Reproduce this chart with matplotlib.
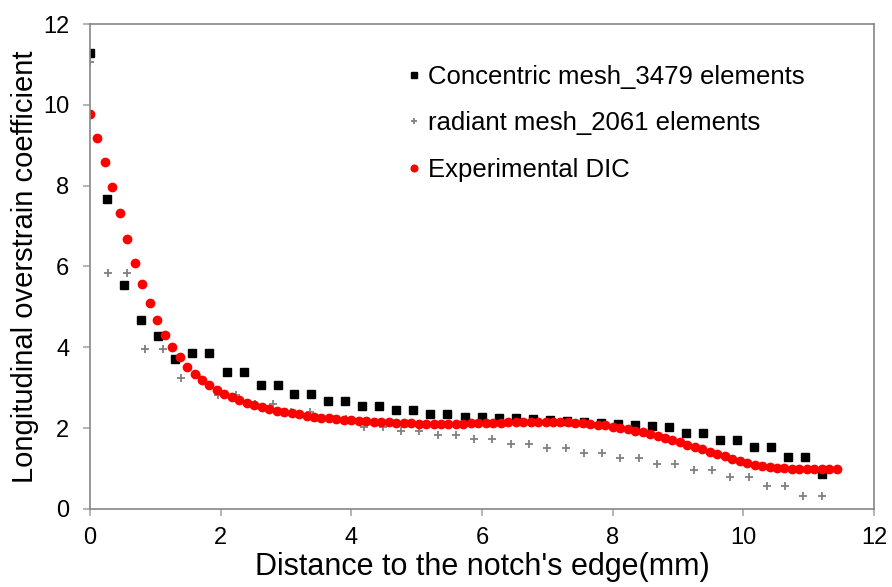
import numpy as np
import matplotlib
matplotlib.use("Agg")
import matplotlib.pyplot as plt

plt.rcParams['font.family'] = ['Liberation Sans', 'DejaVu Sans']

# concentric mesh (3479 elements)
conc_x = [0, 0.26, 0.52, 0.78, 1.04, 1.30, 1.56, 1.82, 2.09, 2.35, 2.61, 2.87, 3.13, 3.39,
          3.65, 3.91, 4.17, 4.43, 4.69, 4.95, 5.21, 5.47, 5.74, 6.00, 6.26, 6.52, 6.78, 7.04,
          7.30, 7.56, 7.82, 8.08, 8.34, 8.60, 8.86, 9.12, 9.39, 9.65, 9.91, 10.17, 10.43,
          10.69, 10.95, 11.21]
conc_y = [11.29, 7.68, 5.53, 4.68, 4.29, 3.70, 3.85, 3.85, 3.39, 3.39, 3.07, 3.07, 2.85, 2.85,
          2.68, 2.68, 2.56, 2.56, 2.45, 2.45, 2.35, 2.35, 2.28, 2.28, 2.24, 2.24, 2.22, 2.21,
          2.18, 2.15, 2.12, 2.10, 2.08, 2.06, 2.04, 1.89, 1.89, 1.71, 1.71, 1.53, 1.53,
          1.29, 1.29, 0.87]

# radiant mesh (2061 elements)
rad_x = [0, 0.28, 0.56, 0.84, 1.12, 1.40, 1.68, 1.96, 2.24, 2.52, 2.80, 3.08, 3.36, 3.64,
         3.92, 4.20, 4.48, 4.76, 5.04, 5.32, 5.60, 5.88, 6.16, 6.44, 6.72, 7.00, 7.28, 7.56,
         7.84, 8.12, 8.40, 8.68, 8.96, 9.24, 9.52, 9.80, 10.08, 10.36, 10.64, 10.92, 11.20]
rad_y = [11.06, 5.85, 5.85, 3.95, 3.95, 3.23, 3.23, 2.83, 2.83, 2.59, 2.59, 2.40, 2.40, 2.22,
         2.22, 2.04, 2.04, 1.93, 1.93, 1.82, 1.82, 1.72, 1.72, 1.61, 1.61, 1.50, 1.50, 1.38,
         1.38, 1.25, 1.25, 1.11, 1.11, 0.97, 0.97, 0.78, 0.78, 0.58, 0.58, 0.33, 0.33]

# experimental DIC, sampled every ~0.114 mm
dic_x = np.linspace(0, 11.43, 101)
dic_y = [9.77, 9.18, 8.59, 7.96, 7.33, 6.69, 6.09, 5.56, 5.09, 4.67,
         4.31, 4.00, 3.75, 3.52, 3.34, 3.19, 3.06, 2.95, 2.85, 2.76,
         2.69, 2.62, 2.57, 2.52, 2.48, 2.43, 2.39, 2.37, 2.34, 2.31,
         2.28, 2.26, 2.24, 2.22, 2.20, 2.19, 2.18, 2.17, 2.16, 2.15,
         2.14, 2.13, 2.12, 2.12, 2.11, 2.11, 2.11, 2.11, 2.11, 2.11,
         2.11, 2.12, 2.12, 2.12, 2.13, 2.13, 2.14, 2.14, 2.14, 2.15,
         2.15, 2.15, 2.15, 2.14, 2.14, 2.13, 2.12, 2.11, 2.09, 2.07,
         2.04, 2.01, 1.97, 1.94, 1.90, 1.86, 1.81, 1.76, 1.71, 1.65,
         1.59, 1.53, 1.48, 1.42, 1.36, 1.30, 1.24, 1.19, 1.14, 1.10,
         1.06, 1.04, 1.02, 1.01, 1.00, 0.99, 0.99, 0.99, 0.99, 0.99,
         1.00]

fig = plt.figure(figsize=(8.92, 5.87), dpi=100)
ax = fig.add_axes([0.1009, 0.1329, 0.8789, 0.8262])

ax.plot(conc_x, conc_y, ls='none', marker='s', ms=5.2, color='black',
        label='Concentric mesh_3479 elements')
ax.plot(rad_x, rad_y, ls='none', marker='+', ms=6, mew=1.3, color='#808080',
        label='radiant mesh_2061 elements')
ax.plot(dic_x, dic_y, ls='none', marker='o', ms=6, color='red', mec='red',
        label='Experimental DIC')

ax.set_xlim(0, 12)
ax.set_ylim(0, 12)
ax.set_xticks(range(0, 13, 2))
ax.set_yticks(range(0, 13, 2))

for s in ax.spines.values():
    s.set_color('#868686')
    s.set_linewidth(1.2)
ax.tick_params(axis='both', direction='out', length=5, width=1.1, color='#a0a0a0',
               labelsize=17)
ax.tick_params(axis='x', pad=8)
ax.tick_params(axis='y', pad=10)

ax.set_xlabel("Distance to the notch's edge(mm)", fontsize=22, labelpad=2)
ax.set_ylabel("Longitudinal overstrain coefficient", fontsize=21, labelpad=3)

ax.legend(loc='upper left', bbox_to_anchor=(0.39, 0.937), frameon=False, fontsize=18.5,
          handlelength=0.6, handletextpad=0.25, labelspacing=0.88, markerscale=0.8,
          borderaxespad=0)

fig.savefig('out.png', dpi=100)
